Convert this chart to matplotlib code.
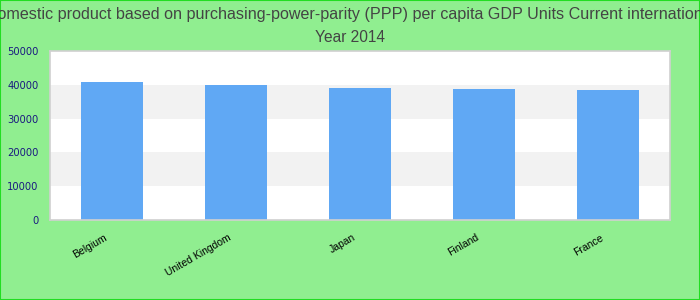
import matplotlib
matplotlib.use("Agg")
import matplotlib.pyplot as plt
from matplotlib.patches import Rectangle
from matplotlib.transforms import ScaledTranslation

countries = ["Belgium", "United Kingdom", "Japan", "Finland", "France"]
gdp_ppp = [40900, 39950, 39100, 38800, 38500]
y_ticks = [0, 10000, 20000, 30000, 40000, 50000]
title_line1 = ("Gross domestic product based on purchasing-power-parity (PPP) per capita "
               "GDP Units Current international dollar")
title_line2 = "Year 2014"

fig = plt.figure(figsize=(7, 3), dpi=100, facecolor="#90ee90")
ax = fig.add_axes([50 / 700, 80 / 300, 620 / 700, 169 / 300])
ax.set_facecolor("white")

# alternating horizontal bands
for lo, hi in zip(y_ticks[:-1], y_ticks[1:]):
    if (lo // 10000) % 2 == 1:
        ax.axhspan(lo, hi, color="#f2f2f2", zorder=0, lw=0)

x = list(range(len(countries)))
ax.bar(x, gdp_ppp, width=0.508, color="#60a8f4", zorder=2)

ax.set_xlim(-0.5, len(countries) - 0.5)
ax.set_ylim(0, 50000)
ax.set_yticks(y_ticks)
ax.set_yticklabels([str(v) for v in y_ticks], color="#1a1a80", fontsize=7.2,
                   family="DejaVu Sans")
ax.tick_params(axis="y", length=0, pad=8.4)

ax.set_xticks(x)
ax.set_xticklabels(countries, rotation=30, ha="right", rotation_mode="anchor",
                   fontsize=7.5, family="Liberation Sans", color="black")
ax.tick_params(axis="x", length=0, pad=9)
shift = ScaledTranslation(-8 / 100, 0, fig.dpi_scale_trans)
for lbl in ax.get_xticklabels():
    lbl.set_transform(lbl.get_transform() + shift)

for s in ax.spines.values():
    s.set_color("#d0d0d0")
    s.set_linewidth(1.2)

title_kw = dict(ha="center", va="baseline", color="#444444", family="Liberation Sans")
fig.text(0.5, 1 - 18.5 / 300, title_line1, fontsize=11.6, **title_kw)
fig.text(0.5, 1 - 41.7 / 300, title_line2, fontsize=11.2, **title_kw)

fig.patches.append(Rectangle((0, 0), 1, 1, transform=fig.transFigure,
                             fill=False, edgecolor="#22dd22", lw=1.5))

fig.savefig("out.png", dpi=100, facecolor=fig.get_facecolor())
